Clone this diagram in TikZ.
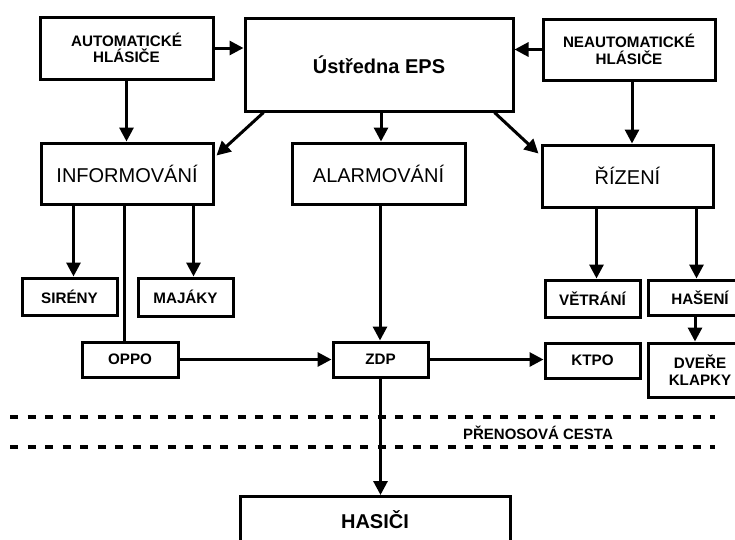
\documentclass[tikz,border=0pt]{standalone}
\usepackage{fontspec}
\setmainfont{Liberation Sans}
\usetikzlibrary{arrows.meta,calc}
\tikzset{
  box/.style={draw, line width=3pt, rectangle, inner sep=0pt, align=center},
  small/.style={box, font=\fontsize{15.2}{16.5}\selectfont\bfseries},
  big/.style={box, font=\fontsize{20}{22}\selectfont},
  conn/.style={line width=3pt},
  arr/.style={conn, -{Triangle[length=14pt,width=14pt]}},
  sep/.style={line width=3.2pt, dash pattern=on 8pt off 9.5pt}
}
\begin{document}
\begin{tikzpicture}[x=1pt,y=-1pt]
\useasboundingbox (0,0) rectangle (735,539);
\clip (0,0) rectangle (735,539);
% top row
\node[small, minimum width=173, minimum height=62] (auto) at (126.5,48) {AUTOMATICKÉ\\HLÁSIČE};
\node[box, font=\fontsize{20}{22}\selectfont\bfseries, minimum width=268, minimum height=93] (ustr) at (379,64.5) {Ústředna EPS};
\node[small, minimum width=172, minimum height=61] (neauto) at (629,49.5) {NEAUTOMATICKÉ\\HLÁSIČE};
% second row
\node[big, minimum width=172, minimum height=61] (inform) at (127,173.5) {INFORMOVÁNÍ};
\node[big, minimum width=173, minimum height=61] (alarm) at (378.5,173.5) {ALARMOVÁNÍ};
\node[big, minimum width=171, minimum height=62] (rizeni) at (627.5,176) {ŘÍZENÍ};
% third row
\node[small, minimum width=95, minimum height=37] (sireny) at (69.5,296.5) {SIRÉNY};
\node[small, minimum width=95, minimum height=38] (majaky) at (185.5,297) {MAJÁKY};
\node[small, minimum width=95, minimum height=37] (vetrani) at (592.5,298.5) {VĚTRÁNÍ};
\node[small, minimum width=104, minimum height=35] (haseni) at (700,297.5) {HAŠENÍ};
% fourth row
\node[small, minimum width=96, minimum height=35] (oppo) at (130,359.5) {OPPO};
\node[small, minimum width=95, minimum height=35] (zdp) at (380.5,359.5) {ZDP};
\node[small, minimum width=95, minimum height=35] (ktpo) at (592.5,360.5) {KTPO};
\node[small, minimum width=104, minimum height=54] (dvere) at (700,370) {DVEŘE\\KLAPKY};
% bottom
\node[box, font=\fontsize{20}{22}\selectfont\bfseries, anchor=north, minimum width=270,
      text height=15pt, text depth=40pt, inner ysep=17pt] (hasici) at (375,495) {HASIČI};
% transmission path
\coordinate (d1a) at (10,417);
\coordinate (d1b) at (715,417);
\coordinate (d2a) at (10,447);
\coordinate (d2b) at (715,447);
\draw[sep] (d1a) -- (d1b);
\draw[sep] (d2a) -- (d2b);
\node[font=\fontsize{15}{16}\selectfont\bfseries] (cesta) at (538,433) {PŘENOSOVÁ CESTA};
% connectors
\draw[arr] (auto.east) -- (auto.east -| ustr.west);
\draw[arr] (neauto.west) -- (neauto.west -| ustr.east);
\draw[arr] (auto.south) -- (auto.south |- inform.north);
\coordinate (na) at ($(neauto.south)+(3,0)$);
\draw[arr] (na) -- (na |- rizeni.north);
\draw[arr] ($(ustr.south west)+(20,0)$) -- ($(inform.north east)+(2,14)$);
\draw[arr] ($(ustr.south east)+(-20,0)$) -- ($(rizeni.north west)+(-2,10)$);
\coordinate (ua) at ($(ustr.south)+(2,0)$);
\draw[arr] (ua) -- (ua |- alarm.north);
\coordinate (i1) at ($(inform.south west)+(34,0)$);
\draw[arr] (i1) -- (i1 |- sireny.north);
\coordinate (i2) at ($(inform.south east)+(-21,0)$);
\draw[arr] (i2) -- (i2 |- majaky.north);
\coordinate (i3) at ($(inform.south west)+(85,0)$);
\draw[conn] (i3) -- (i3 |- oppo.north);
\coordinate (a1) at ($(alarm.south)+(1.5,0)$);
\draw[arr] (a1) -- (a1 |- zdp.north);
\draw[arr] (zdp.south) -- (zdp.south |- hasici.north);
\draw[arr] (oppo.east) -- (oppo.east -| zdp.west);
\draw[arr] (zdp.east) -- (zdp.east -| ktpo.west);
\coordinate (r1) at ($(rizeni.south west)+(56,0)$);
\draw[arr] (r1) -- (r1 |- vetrani.north);
\coordinate (r2) at ($(rizeni.south east)+(-18,0)$);
\draw[arr] (r2) -- (r2 |- haseni.north);
\coordinate (h1) at ($(haseni.south)+(-5,0)$);
\draw[arr] (h1) -- (h1 |- dvere.north);
\end{tikzpicture}
\end{document}
